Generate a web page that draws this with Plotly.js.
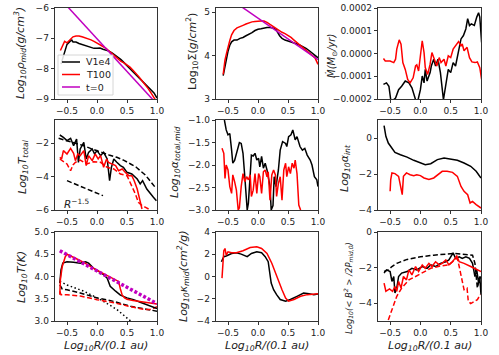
<!DOCTYPE html>
<html>
<head>
<meta charset="utf-8">
<script src="https://cdn.plot.ly/plotly-3.0.1.min.js"></script>
<style>html,body{margin:0;padding:0;background:#fff;}</style>
</head>
<body>
<div id="chart" style="width:499px;height:355px;"></div>
<script>
// ---- panel 1: midplane density ----
var rhoX_V = [-0.6,-0.55,-0.5,-0.45,-0.42,-0.4,-0.35,-0.3,-0.25,-0.2,-0.15,-0.1,-0.05,0.0,0.05,0.1,0.15,0.2,0.25,0.3,0.35,0.4,0.45,0.5,0.55,0.6,0.65,0.7,0.75,0.8,0.85,0.9,0.95,1.0];
var rhoY_V = [-7.85,-7.5,-7.2,-7.1,-7.06,-7.12,-7.12,-7.17,-7.2,-7.23,-7.26,-7.3,-7.33,-7.33,-7.32,-7.36,-7.38,-7.42,-7.48,-7.55,-7.62,-7.7,-7.8,-7.9,-7.98,-8.07,-8.17,-8.28,-8.38,-8.48,-8.58,-8.68,-8.8,-8.97];
var rhoX_T = [-0.61,-0.57,-0.54,-0.5,-0.45,-0.4,-0.35,-0.3,-0.25,-0.2,-0.15,-0.1,-0.05,0.0,0.05,0.1,0.15,0.2,0.25,0.3,0.35,0.4,0.45,0.5,0.55,0.6,0.65,0.7,0.75,0.8,0.85,0.9,0.95,0.98];
var rhoY_T = [-7.4,-7.2,-7.1,-7.15,-7.05,-6.95,-6.92,-6.92,-6.95,-6.98,-7.02,-7.05,-7.1,-7.15,-7.2,-7.27,-7.33,-7.42,-7.5,-7.6,-7.7,-7.76,-7.81,-7.87,-7.95,-8.05,-8.15,-8.27,-8.4,-8.52,-8.65,-8.8,-8.95,-9.05];
var rhoX_0 = [-0.6,1.0];
var rhoY_0 = [-5.72,-9.17];

// ---- panel 2: surface density ----
var sigX_V = [-0.58,-0.55,-0.53,-0.5,-0.47,-0.44,-0.4,-0.35,-0.3,-0.25,-0.2,-0.15,-0.1,-0.05,0.0,0.05,0.1,0.15,0.2,0.25,0.3,0.33,0.36,0.4,0.45,0.5,0.55,0.6,0.65,0.7,0.75,0.8,0.85,0.9,0.95,1.0];
var sigY_V = [3.54,3.75,3.92,4.1,4.24,4.32,4.36,4.36,4.4,4.42,4.46,4.49,4.53,4.58,4.61,4.62,4.64,4.65,4.65,4.64,4.6,4.52,4.46,4.4,4.36,4.34,4.32,4.3,4.27,4.24,4.21,4.17,4.12,4.07,4.02,3.95];
var sigX_T = [-0.58,-0.55,-0.52,-0.5,-0.47,-0.44,-0.4,-0.35,-0.3,-0.25,-0.2,-0.15,-0.1,-0.05,0.0,0.05,0.1,0.15,0.2,0.25,0.3,0.35,0.4,0.45,0.5,0.55,0.6,0.65,0.7,0.75,0.8,0.85,0.9,0.95,1.0];
var sigY_T = [3.57,3.9,4.08,4.2,4.35,4.48,4.58,4.64,4.68,4.7,4.73,4.76,4.78,4.79,4.8,4.8,4.8,4.77,4.72,4.67,4.62,4.58,4.54,4.51,4.47,4.42,4.36,4.3,4.24,4.19,4.14,4.08,4.02,3.95,3.8];
var sigX_0 = [-0.6,1.0];
var sigY_0 = [5.44,3.91];

// ---- panel 3: accretion rate (units of 1e-4) ----
var mdX_V = [-0.61,-0.56,-0.52,-0.49,-0.45,-0.41,-0.36,-0.31,-0.25,-0.19,-0.14,-0.08,-0.04,0.0,0.03,0.06,0.08,0.11,0.16,0.18,0.22,0.25,0.29,0.33,0.38,0.42,0.46,0.5,0.54,0.58,0.63,0.67,0.71,0.75,0.78,0.81,0.84,0.89,0.93,0.96,0.98,1.01];
var mdY_V = [-1.36,-1.29,-1.44,-2.03,-2.05,-1.96,-1.59,-1.44,-1.21,-1.29,-1.51,-2.03,-2.05,-1.59,-0.99,-1.29,-0.7,-1.21,-0.84,-0.55,-0.25,-0.55,-0.25,-0.84,-2.03,-1.36,-0.7,-0.84,-0.4,-0.55,0.19,0.64,0.79,1.08,1.53,1.23,1.3,1.23,1.6,1.79,1.6,0.49];
var mdX_T = [-0.61,-0.58,-0.5,-0.44,-0.41,-0.39,-0.35,-0.32,-0.29,-0.25,-0.21,-0.17,-0.12,-0.08,-0.06,-0.03,0.0,0.03,0.06,0.08,0.12,0.16,0.19,0.23,0.27,0.31,0.34,0.39,0.42,0.46,0.5,0.54,0.58,0.63,0.67,0.69,0.72,0.77,0.81,0.85,0.9,0.94,0.98,1.01];
var mdY_T = [-0.22,-0.33,-0.33,-0.4,-0.25,0.19,0.6,0.41,-0.4,-0.7,-1.14,-1.29,-1.07,-0.55,-0.5,-0.77,-0.1,0.56,0.04,-0.62,-0.92,-0.47,0.04,-0.25,-0.55,-0.18,-0.4,-0.25,-0.55,-0.1,-0.18,0.19,0.34,0.52,0.34,0.42,0.12,0.27,-0.18,-0.37,-0.4,-0.37,-0.62,-1.14];

// ---- panel 4: total stress ----
var tX_Vd = [-0.64,-0.5,-0.35,-0.22,-0.1,0.06,0.2,0.33,0.45,0.56,0.65,0.72,0.8,0.86,0.92,0.97];
var tY_Vd = [-1.7,-1.84,-2.0,-2.14,-2.32,-2.54,-2.7,-2.84,-3.02,-3.24,-3.42,-3.64,-3.88,-4.14,-4.38,-4.64];
var tX_V = [-0.62,-0.56,-0.5,-0.44,-0.39,-0.34,-0.31,-0.28,-0.22,-0.18,-0.14,-0.08,-0.04,0.0,0.06,0.11,0.17,0.21,0.24,0.28,0.33,0.39,0.44,0.5,0.58,0.67,0.72,0.76,0.83,0.89,0.94,0.99];
var tY_V = [-1.5,-1.64,-1.84,-1.7,-2.14,-1.74,-3.14,-2.34,-1.94,-2.94,-2.54,-2.34,-2.64,-2.44,-2.74,-2.54,-2.94,-4.24,-3.44,-2.94,-3.14,-3.34,-3.44,-3.74,-3.84,-4.14,-4.44,-4.24,-4.74,-5.04,-5.24,-5.44];
var tX_T = [-0.62,-0.59,-0.56,-0.5,-0.44,-0.39,-0.36,-0.32,-0.28,-0.22,-0.18,-0.14,-0.08,-0.03,0.02,0.06,0.11,0.16,0.19,0.25,0.31,0.36,0.42,0.47,0.53,0.58,0.62,0.67,0.71,0.75];
var tY_T = [-2.84,-2.94,-2.44,-2.64,-2.3,-2.6,-3.04,-2.64,-2.74,-2.44,-3.34,-2.74,-3.04,-2.64,-2.94,-2.74,-3.44,-2.94,-3.14,-3.24,-3.34,-3.64,-3.54,-3.74,-3.94,-3.94,-4.24,-4.74,-5.34,-5.94];
var tX_Td = [-0.62,-0.56,-0.5,-0.44,-0.4,-0.36,-0.28,-0.17,-0.06,0.06,0.17,0.28,0.39,0.5,0.58,0.64,0.69,0.75,0.81,0.86];
var tY_Td = [-2.94,-3.1,-3.24,-3.64,-3.3,-3.14,-3.0,-3.24,-3.1,-3.14,-3.44,-3.54,-3.84,-3.94,-4.54,-5.04,-5.54,-5.74,-5.84,-5.94];
var slopeX = [-0.5,0.1];
var slopeY = [-4.24,-5.14];

// ---- panel 5: midplane alpha ----
var aX_V = [-0.56,-0.53,-0.5,-0.47,-0.44,-0.42,-0.39,-0.36,-0.31,-0.28,-0.25,-0.22,-0.2,-0.18,-0.16,-0.13,-0.11,-0.08,-0.05,-0.02,0.01,0.03,0.06,0.09,0.12,0.15,0.17,0.2,0.22,0.25,0.27,0.3,0.34,0.37,0.41,0.46,0.48,0.51,0.55,0.58,0.62,0.65,0.7,0.74,0.78,0.82,0.87,0.9,0.94,0.98,1.0];
var aY_V = [-1.0,-1.22,-1.33,-1.3,-1.67,-1.96,-1.9,-1.74,-1.5,-1.52,-1.74,-2.26,-2.7,-3.0,-2.85,-2.26,-1.78,-1.8,-1.74,-1.89,-1.85,-2.04,-1.81,-2.07,-1.96,-2.11,-2.26,-2.48,-3.0,-2.9,-2.26,-2.48,-2.11,-1.67,-1.48,-1.52,-1.59,-1.37,-1.33,-1.22,-1.44,-1.37,-1.59,-1.67,-1.63,-1.78,-1.89,-2.0,-2.26,-2.33,-2.48];
var aX_T = [-0.6,-0.57,-0.55,-0.53,-0.5,-0.47,-0.44,-0.42,-0.39,-0.36,-0.33,-0.31,-0.28,-0.25,-0.22,-0.19,-0.16,-0.13,-0.11,-0.08,-0.05,-0.02,0.01,0.03,0.06,0.09,0.12,0.15,0.17,0.2,0.23,0.26,0.29,0.31,0.34,0.37,0.4,0.43,0.46,0.48,0.51,0.54,0.57,0.6,0.62,0.65,0.68,0.71];
var aY_T = [-1.63,-1.74,-2.3,-2.0,-2.11,-2.48,-2.63,-2.22,-2.37,-2.56,-3.0,-2.95,-2.48,-2.19,-2.37,-2.26,-2.33,-2.22,-2.7,-2.56,-2.19,-2.63,-2.19,-2.26,-2.63,-2.15,-2.11,-2.26,-2.15,-2.78,-2.22,-2.11,-2.22,-2.7,-2.41,-2.26,-2.78,-2.11,-1.96,-2.26,-2.04,-2.19,-1.96,-2.07,-1.89,-2.19,-2.89,-3.0];

// ---- panel 6: integrated alpha ----
var iX_V = [-0.6,-0.57,-0.53,-0.47,-0.42,-0.33,-0.22,-0.11,0.0,0.08,0.17,0.28,0.39,0.5,0.61,0.72,0.83,0.92,1.0];
var iY_V = [0.69,0.09,-0.28,-0.56,-0.8,-0.93,-1.06,-1.24,-1.39,-1.48,-1.43,-1.2,-1.11,-1.17,-1.24,-1.39,-1.57,-1.85,-2.22];
var iX_T = [-0.5,-0.49,-0.47,-0.42,-0.36,-0.32,-0.3,-0.28,-0.23,-0.17,-0.11,-0.06,0.0,0.06,0.14,0.22,0.28,0.36,0.44,0.53,0.61,0.67,0.72,0.78,0.82,0.86,0.92,0.97,1.0];
var iY_T = [-2.96,-2.31,-1.94,-1.98,-2.13,-2.87,-3.15,-2.13,-1.94,-2.04,-2.09,-2.04,-2.09,-2.22,-2.31,-2.22,-2.04,-1.85,-1.85,-1.91,-2.13,-2.69,-2.96,-3.15,-3.61,-3.52,-3.7,-3.8,-3.89];

// ---- panel 7: temperature ----
var tempX_V = [-0.62,-0.6,-0.57,-0.5,-0.39,-0.28,-0.19,-0.14,-0.06,0.03,0.11,0.17,0.22,0.31,0.39,0.5,0.61,0.72,0.83,0.92,1.0];
var tempY_V = [3.85,4.15,4.3,4.33,4.32,4.3,4.33,4.3,4.19,4.11,4.04,3.96,3.78,3.67,3.58,3.52,3.48,3.42,3.37,3.33,3.28];
var tempX_T = [-0.62,-0.61,-0.58,-0.53,-0.5,-0.45,-0.4,-0.3,-0.2,-0.1,0.0,0.1,0.2,0.3,0.36,0.39,0.42,0.46,0.5,0.6,0.7,0.8,0.9,1.0];
var tempY_T = [3.59,3.93,4.22,4.44,4.5,4.47,4.44,4.37,4.3,4.21,4.14,4.07,4.0,3.93,3.89,3.72,3.58,3.52,3.49,3.46,3.44,3.42,3.4,3.38];
var tempX_0 = [-0.62,1.0];
var tempY_0 = [4.58,3.39];
var tempX_Vd = [-0.62,-0.58,-0.5,-0.28,0.0,0.28,0.56,0.78,1.0];
var tempY_Vd = [3.81,3.72,3.7,3.63,3.52,3.44,3.33,3.27,3.22];
var tempX_Td = [-0.62,-0.6,-0.5,-0.28,0.0,0.28,0.56,0.78,0.9,1.0];
var tempY_Td = [3.67,3.59,3.59,3.56,3.48,3.41,3.32,3.26,3.26,3.32];
var tempX_dot = [-0.62,-0.5,-0.22,0.06,0.33,0.56];
var tempY_dot = [3.89,3.81,3.67,3.48,3.26,3.0];

// ---- panel 8: opacity ----
var kX_V = [-0.61,-0.57,-0.53,-0.44,-0.36,-0.28,-0.18,-0.11,-0.02,0.06,0.12,0.17,0.22,0.26,0.31,0.37,0.46,0.54,0.65,0.76,0.85,0.93,1.0];
var kY_V = [1.33,1.78,1.84,2.07,2.13,2.01,1.78,2.07,2.22,2.13,1.78,1.33,-0.59,-1.19,-1.63,-2.07,-2.22,-2.07,-1.78,-1.48,-1.54,-1.63,-1.57];
var kX_T = [-0.6,-0.58,-0.57,-0.55,-0.53,-0.5,-0.44,-0.36,-0.25,-0.13,-0.02,0.06,0.15,0.23,0.31,0.4,0.46,0.51,0.6,0.71,0.82,1.0];
var kY_T = [-0.15,1.19,2.31,2.52,1.93,2.22,2.13,2.13,2.31,2.61,2.67,2.52,2.07,1.19,0.0,-1.19,-1.93,-2.22,-2.07,-1.78,-1.63,-1.54];

// ---- panel 9: magnetic pressure ----
var bX_Vd = [-0.6,-0.53,-0.47,-0.39,-0.22,0.0,0.22,0.44,0.56,0.67,0.78,0.86,0.9,0.92,0.94,0.97,1.0];
var bY_Vd = [-2.22,-2.13,-1.94,-1.76,-1.54,-1.39,-1.3,-1.24,-1.2,-1.24,-1.26,-1.3,-1.76,-2.69,-3.15,-2.69,-2.5];
var bX_V = [-0.6,-0.56,-0.5,-0.47,-0.44,-0.42,-0.39,-0.36,-0.31,-0.22,-0.14,-0.06,0.03,0.11,0.17,0.25,0.33,0.42,0.47,0.51,0.54,0.58,0.64,0.69,0.75,0.81,0.86,0.9,0.93,0.96,0.98,1.0];
var bY_V = [-2.31,-2.13,-2.22,-2.78,-2.5,-3.43,-3.15,-2.5,-2.31,-2.22,-2.04,-2.13,-1.94,-2.04,-1.85,-1.94,-1.76,-1.67,-1.57,-1.3,-1.17,-1.48,-1.39,-1.48,-1.39,-1.48,-1.76,-2.5,-2.13,-2.87,-2.5,-3.52];
var bX_T = [-0.6,-0.57,-0.51,-0.46,-0.42,-0.39,-0.36,-0.32,-0.28,-0.23,-0.19,-0.14,-0.08,-0.03,0.03,0.08,0.14,0.19,0.25,0.31,0.36,0.42,0.47,0.53,0.57,0.6,0.64,0.72,0.83,0.94,1.0];
var bY_T = [-2.87,-3.33,-3.2,-3.33,-3.06,-3.33,-2.78,-3.15,-2.5,-2.69,-2.13,-2.41,-1.94,-2.22,-1.85,-2.04,-1.76,-1.94,-1.67,-1.85,-1.76,-1.57,-1.85,-1.67,-1.48,-1.35,-1.67,-1.76,-1.94,-2.13,-2.22];
var bX_Td = [-0.53,-0.47,-0.39,-0.31,-0.19,-0.08,0.06,0.17,0.33,0.47,0.56,0.61,0.64,0.68,0.72,0.77,0.79,0.83,0.89,0.94,0.99];
var bY_Td = [-4.94,-4.35,-3.61,-3.15,-2.69,-2.5,-2.22,-2.04,-1.91,-1.85,-1.57,-1.48,-1.94,-2.69,-3.24,-3.15,-3.89,-4.02,-3.89,-3.8,-3.52];

// legend entries
var legendNames = ['V1e4', 'T100', 't=0'];
var legendColors = ['black', 'red', '#c000c0'];

var W = 499, H = 355;
var colPx = [[55,157],[216,318],[378,481]];
var rowPx = [[8,99],[120,210],[232,321]];
var DASH = '5px,2.5px';
var DOT = '1.5px,2.5px';

var traces = [];
function line(k, x, y, color, dash, width) {
    traces.push({
        x: x, y: y, type: 'scatter', mode: 'lines',
        xaxis: 'x' + (k == 1 ? '' : k), yaxis: 'y' + (k == 1 ? '' : k),
        line: {color: color, width: width || 1.5, dash: dash || 'solid'},
        showlegend: false, hoverinfo: 'skip'
    });
}

line(1, rhoX_V, rhoY_V, legendColors[0]);
line(1, rhoX_T, rhoY_T, legendColors[1]);
line(1, rhoX_0, rhoY_0, legendColors[2]);

line(2, sigX_V, sigY_V, 'black');
line(2, sigX_T, sigY_T, 'red');
line(2, sigX_0, sigY_0, '#c000c0');

line(3, mdX_V, mdY_V.map(function(v){return v * 1e-4;}), 'black');
line(3, mdX_T, mdY_T.map(function(v){return v * 1e-4;}), 'red');

line(4, tX_Vd, tY_Vd, 'black', DASH);
line(4, tX_V, tY_V, 'black');
line(4, tX_T, tY_T, 'red');
line(4, tX_Td, tY_Td, 'red', DASH);
line(4, slopeX, slopeY, 'black', DASH);

line(5, aX_V, aY_V, 'black');
line(5, aX_T, aY_T, 'red');

line(6, iX_V, iY_V, 'black');
line(6, iX_T, iY_T, 'red');

line(7, tempX_dot, tempY_dot, 'black', DOT);
line(7, tempX_Vd, tempY_Vd, 'black', DASH);
line(7, tempX_Td, tempY_Td, 'red', DASH);
line(7, tempX_V, tempY_V, 'black');
line(7, tempX_T, tempY_T, 'red');
line(7, tempX_0, tempY_0, '#c000c0', '3px,2px', 3.5);

line(8, kX_V, kY_V, 'black');
line(8, kX_T, kY_T, 'red');

line(9, bX_Vd, bY_Vd, 'black', DASH);
line(9, bX_V, bY_V, 'black');
line(9, bX_T, bY_T, 'red');
line(9, bX_Td, bY_Td, 'red', DASH);

var yRanges = [[-9,-6],[3,5.1],[-0.0002,0.0002],[-6,-0.6],[-3,-1],[-4,1],[3,5],[-4,4],[-5,0]];
var yTicks = [[-9,-8,-7,-6],[3,4,5],[-0.0002,-0.0001,0,0.0001,0.0002],[-6,-4,-2],[-3,-2.5,-2,-1.5,-1],[-4,-2,0],[3,3.5,4,4.5,5],[-4,-2,0,2,4],[-4,-2,0]];
var yFmt = ['d','d','.4f','d','.1f','d','.1f','d','d'];

var layout = {
    width: W, height: H,
    margin: {l: 0, r: 0, t: 0, b: 0},
    paper_bgcolor: 'white', plot_bgcolor: 'white',
    font: {family: 'DejaVu Sans, sans-serif', size: 9, color: '#222'},
    showlegend: false,
    annotations: [], shapes: []
};

for (var k = 1; k <= 9; k++) {
    var c = (k - 1) % 3, r = Math.floor((k - 1) / 3);
    var sfx = k == 1 ? '' : k;
    var base = {
        showline: true, mirror: true, linecolor: 'black', linewidth: 0.8,
        ticks: 'outside', ticklen: 3.5, tickwidth: 0.8, tickcolor: 'black',
        showgrid: false, zeroline: false, tickfont: {size: 9, color: '#222'}
    };
    layout['xaxis' + sfx] = Object.assign({}, base, {
        domain: [colPx[c][0] / W, colPx[c][1] / W], range: [-0.7, 1.0],
        tickvals: [-0.5, 0, 0.5, 1.0], tickformat: '.1f', anchor: 'y' + sfx
    });
    layout['yaxis' + sfx] = Object.assign({}, base, {
        domain: [1 - rowPx[r][1] / H, 1 - rowPx[r][0] / H], range: yRanges[k - 1],
        tickvals: yTicks[k - 1], tickformat: yFmt[k - 1], anchor: 'x' + sfx
    });
}

// legend box in panel 1
layout.shapes.push({
    type: 'rect', xref: 'paper', yref: 'paper',
    x0: 58 / W, x1: 113 / W, y0: 1 - 95 / H, y1: 1 - 55 / H,
    line: {color: '#cccccc', width: 0.8}, fillcolor: 'rgba(255,255,255,0.85)', layer: 'above'
});
legendNames.forEach(function(n, i) {
    var yy = 1 - (62 + i * 12.5) / H;
    layout.shapes.push({
        type: 'line', xref: 'paper', yref: 'paper',
        x0: 62 / W, x1: 80 / W, y0: yy, y1: yy,
        line: {color: legendColors[i], width: 1.5}, layer: 'above'
    });
    layout.annotations.push({
        text: n, xref: 'paper', yref: 'paper', x: 84 / W, y: yy,
        xanchor: 'left', yanchor: 'middle', showarrow: false,
        font: {size: 9.5, color: '#222'}
    });
});

// y-axis labels
var yLabels = [
    ['<i>Log<sub>10</sub>ρ<sub>mid</sub>(g/cm<sup>3</sup>)</i>', 20, 53, 11],
    ['Log<sub>10</sub>Σ(<i>g</i>/<i>cm</i><sup>2</sup>)', 192, 52, 11],
    ['<i>Ṁ(M<sub>⊙</sub>/yr)</i>', 332, 56, 10],
    ['<i>Log<sub>10</sub>T<sub>total</sub></i>', 23, 167, 11],
    ['<i>Log<sub>10</sub>α<sub>total,mid</sub></i>', 175, 162, 11],
    ['<i>Log<sub>10</sub>α<sub>int</sub></i>', 345, 168, 11],
    ['<i>Log<sub>10</sub>T(K)</i>', 22, 277, 11],
    ['<i>Log<sub>10</sub>κ<sub>mid</sub>(cm<sup>2</sup>/g)</i>', 183, 276, 11],
    ['<i>Log<sub>10</sub>(&lt; B<sup>2</sup> &gt; /2P<sub>mid,0</sub>)</i>', 348, 288, 8.5]
];
yLabels.forEach(function(l) {
    layout.annotations.push({
        text: l[0], xref: 'paper', yref: 'paper', x: l[1] / W, y: 1 - l[2] / H,
        xanchor: 'center', yanchor: 'middle', textangle: -90, showarrow: false,
        font: {size: l[3], color: '#222'}
    });
});
[0, 1, 2].forEach(function(c) {
    layout.annotations.push({
        text: '<i>Log<sub>10</sub>R/(0.1 au)</i>', xref: 'paper', yref: 'paper',
        x: (colPx[c][0] + colPx[c][1]) / 2 / W, y: 1 - 346 / H,
        xanchor: 'center', yanchor: 'middle', showarrow: false,
        font: {size: 11, color: '#222'}
    });
});
layout.annotations.push({
    text: '<i>R</i><sup>−1.5</sup>', xref: 'x4', yref: 'y4', x: -0.35, y: -5.62,
    showarrow: false, font: {size: 10.5, color: '#222'}
});

Plotly.newPlot('chart', traces, layout, {staticPlot: true, displayModeBar: false});
</script>
</body>
</html>
